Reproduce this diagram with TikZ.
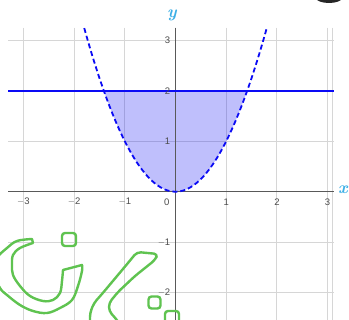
\documentclass[tikz,border=0pt]{standalone}
\usepackage{fontspec}
\setsansfont{Liberation Sans}
\begin{document}
\begin{tikzpicture}[x=1pt,y=-1pt,
  gridline/.style={draw=black!16,line width=0.9pt},
  axisline/.style={draw=black!65,line width=0.9pt},
  ticklab/.style={font=\sffamily\fontsize{9.5}{10}\selectfont,text=black!70,inner sep=0pt},
  axlab/.style={font=\fontsize{17}{18}\selectfont\bfseries\itshape,text=axcyan,inner sep=0pt},
  curve/.style={draw=graphblue,line width=1.8pt},
  ink/.style={draw=inkgreen,line width=2.4pt,line join=round,line cap=round},
]
\definecolor{graphblue}{RGB}{10,10,245}
\definecolor{axcyan}{RGB}{60,175,230}
\definecolor{inkgreen}{RGB}{95,195,80}
\useasboundingbox (0,0) rectangle (349,320);
\fill[white] (0,0) rectangle (349,320);
\begin{scope}[shift={(175.5,191.7)},x=50.7pt,y=50.5pt]
  % grid
  \foreach \i in {-3,...,3} \draw[gridline] (\i,3.25) -- (\i,-2.6);
  \draw[gridline] (3.1,3.25) -- (3.1,-2.6);
  \foreach \j in {-2,-1,1,2,3} \draw[gridline] (-3.3,\j) -- (3.12,\j);
  % shaded region
  \fill[graphblue,opacity=0.26] plot[domain=-1.4142:1.4142,samples=60] (\x,{\x*\x}) -- cycle;
  % axes
  \draw[axisline] (-3.3,0) -- (3.12,0);
  \draw[axisline] (0,3.25) -- (0,-2.6);
  % curves
  \draw[curve] (-3.3,2) -- (3.12,2);
  \draw[curve,dash pattern=on 5pt off 3pt] plot[domain=-1.8:1.8,samples=80,smooth] (\x,{\x*\x});
  % tick labels
  \foreach \i/\t in {-3/$-$3,-2/$-$2,-1/$-$1,1/1,2/2,3/3}
    \node[ticklab] (xl\i) at (\i,-0.2) {\t};
  \node[ticklab] (xl0) at (-0.17,-0.2) {0};
  \foreach \j/\t in {3/3,2/2,1/1,-1/$-$1,-2/$-$2}
    \node[ticklab,anchor=east] (yl\j) at (-0.1,\j) {\t};
  \node[axlab] (ylab) at (-0.07,3.5) {y};
  \node[axlab] (xlab) at (3.3,0.04) {x};
\end{scope}
% handwritten green marks
\draw[ink] plot[smooth,tension=0.6] coordinates {
  (32,239) (17,241) (7,248) (-3,258) (-7,272) (0,288) (7,295) (20,305) (33,311)
  (47,313) (60,308) (72,300) (78,286) (82,271) (82,265)}
  -- plot[smooth,tension=0.6] coordinates {
  (63,270) (62,281) (60,293) (53,300) (43,301) (30,296) (20,286) (13,275)
  (12,265) (13,255) (20,248) (33,243)} -- cycle;
\draw[ink,rounded corners=3pt] (62,233) rectangle (76,246);
\draw[ink,rounded corners=4pt] (90,326) -- (90,313) -- (94,303) -- (102,294)
  -- (128,263) -- (137,252) -- (158,254) -- (155,260) -- (135,276) -- (118,292)
  -- (109,303) -- (109,311) -- (117,320) -- (121,326);
\draw[ink,rounded corners=3pt] (148.5,296.5) rectangle (160.5,308.5);
\draw[ink,rounded corners=3pt] (165,311) rectangle (179,326);
% dark blob top right
\fill[black!85] (329,-2) ellipse[x radius=13pt,y radius=5pt];
\end{tikzpicture}
\end{document}
